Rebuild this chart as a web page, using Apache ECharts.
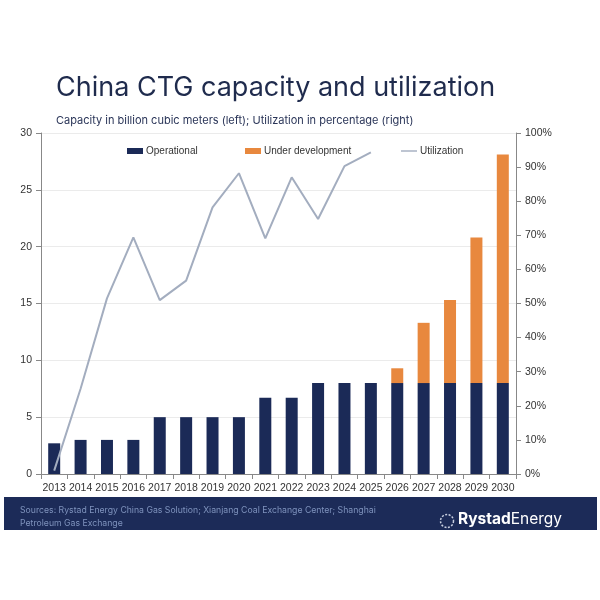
<!DOCTYPE html>
<html>
<head>
<meta charset="utf-8">
<script src="https://cdn.jsdelivr.net/npm/echarts@6/dist/echarts.min.js"></script>
<style>html,body{margin:0;padding:0;background:#fff;}#c{width:600px;height:600px;}</style>
</head>
<body>
<div id="c"></div>
<script>
const categories = ['2013','2014','2015','2016','2017','2018','2019','2020','2021','2022','2023','2024','2025','2026','2027','2028','2029','2030'];
const operational = [2.7,3.0,3.0,3.0,5.0,5.0,5.0,5.0,6.7,6.7,8.0,8.0,8.0,8.0,8.0,8.0,8.0,8.0];
const underDevelopment = [0,0,0,0,0,0,0,0,0,0,0,0,0,1.3,5.3,7.3,12.8,20.1];
const utilization = [1,25,51.5,69.4,51,56.7,78.2,88.2,69.1,87,74.8,90.3,94.3,null,null,null,null,null];
const leftTicks = [0,5,10,15,20,25,30];
const rightTicks = [0,10,20,30,40,50,60,70,80,90,100];

const navy = '#1b2a57';
const orange = '#e8883e';
const lineC = '#a3adbf';
const font = 'Inter, "Noto Sans", sans-serif';
const axFont = '"Liberation Sans", Arial, sans-serif';

const legendCommon = {top:141, itemWidth:16, itemHeight:6, itemGap:0,
  textStyle:{fontSize:10, color:'#333', fontFamily:axFont, padding:[0,0,0,-2]}};

const chart = echarts.init(document.getElementById('c'), null, {renderer:'canvas'});
chart.setOption({
  backgroundColor:'#fff',
  animation:false,
  textStyle:{fontFamily:font},
  title:[
    {text:'China CTG capacity and utilization', left:51, top:69, textStyle:{fontSize:27, fontWeight:'normal', color:'#1f2b4d', fontFamily:font}},
    {text:'Capacity in billion cubic meters (left); Utilization in percentage (right)', left:51, top:110, textStyle:{fontSize:11, fontWeight:'normal', color:'#2a3558', fontFamily:font}}
  ],
  legend:[
    Object.assign({left:122, data:[{name:'Operational', icon:'rect'}]}, legendCommon),
    Object.assign({left:240, data:[{name:'Under development', icon:'rect'}]}, legendCommon),
    Object.assign({left:396, data:[{name:'Utilization', icon:'path://M0,0L16,0L16,1.4L0,1.4Z'}]}, legendCommon)
  ],
  grid:{left:41, right:84, top:133, bottom:126},
  xAxis:{
    type:'category', data:categories, boundaryGap:true,
    axisLine:{lineStyle:{color:'#888'}},
    axisTick:{show:true, alignWithLabel:false, lineStyle:{color:'#888'}},
    axisLabel:{fontSize:10.5, color:'#333', margin:9, interval:0, fontFamily:axFont}
  },
  yAxis:[
    {type:'value', min:0, max:30, interval:5,
     axisLine:{show:true, lineStyle:{color:'#888'}},
     axisTick:{show:true, lineStyle:{color:'#888'}},
     axisLabel:{fontSize:10.5, color:'#333', margin:9, fontFamily:axFont},
     splitLine:{lineStyle:{color:'#ebebeb'}}},
    {type:'value', min:0, max:100, interval:10, position:'right',
     axisLine:{show:true, lineStyle:{color:'#888'}},
     axisTick:{show:true, lineStyle:{color:'#888'}},
     axisLabel:{fontSize:10.5, color:'#333', margin:9, formatter:'{value}%', fontFamily:axFont},
     splitLine:{show:false}}
  ],
  series:[
    {name:'Operational', type:'bar', stack:'cap', data:operational, barWidth:12, itemStyle:{color:navy}},
    {name:'Under development', type:'bar', stack:'cap', data:underDevelopment, barWidth:12, itemStyle:{color:orange}},
    {name:'Utilization', type:'line', yAxisIndex:1, data:utilization, symbol:'none', lineStyle:{color:lineC, width:2}, itemStyle:{color:lineC}, z:5}
  ],
  graphic:[
    {type:'rect', shape:{x:4, y:497, width:593, height:33}, style:{fill:'#1c2b58'}, silent:true},
    {type:'text', left:20, top:504, style:{text:'Sources: Rystad Energy China Gas Solution; Xianjang Coal Exchange Center; Shanghai\nPetroleum Gas Exchange', fill:'#7f93bd', fontSize:8.7, lineHeight:13, fontFamily:font}},
    {type:'circle', shape:{cx:447, cy:521, r:6.5}, style:{fill:'none', stroke:'#c8cfe0', lineWidth:1.5, lineDash:[2,1.5]}},
    {type:'text', left:458, top:511, style:{rich:{b:{fontWeight:'bold', fontSize:15.5, fill:'#ffffff', fontFamily:font}, n:{fontSize:15.5, fill:'#ffffff', fontFamily:font}}, text:'{b|Rystad}{n|Energy}'}}
  ]
});
</script>
</body>
</html>
